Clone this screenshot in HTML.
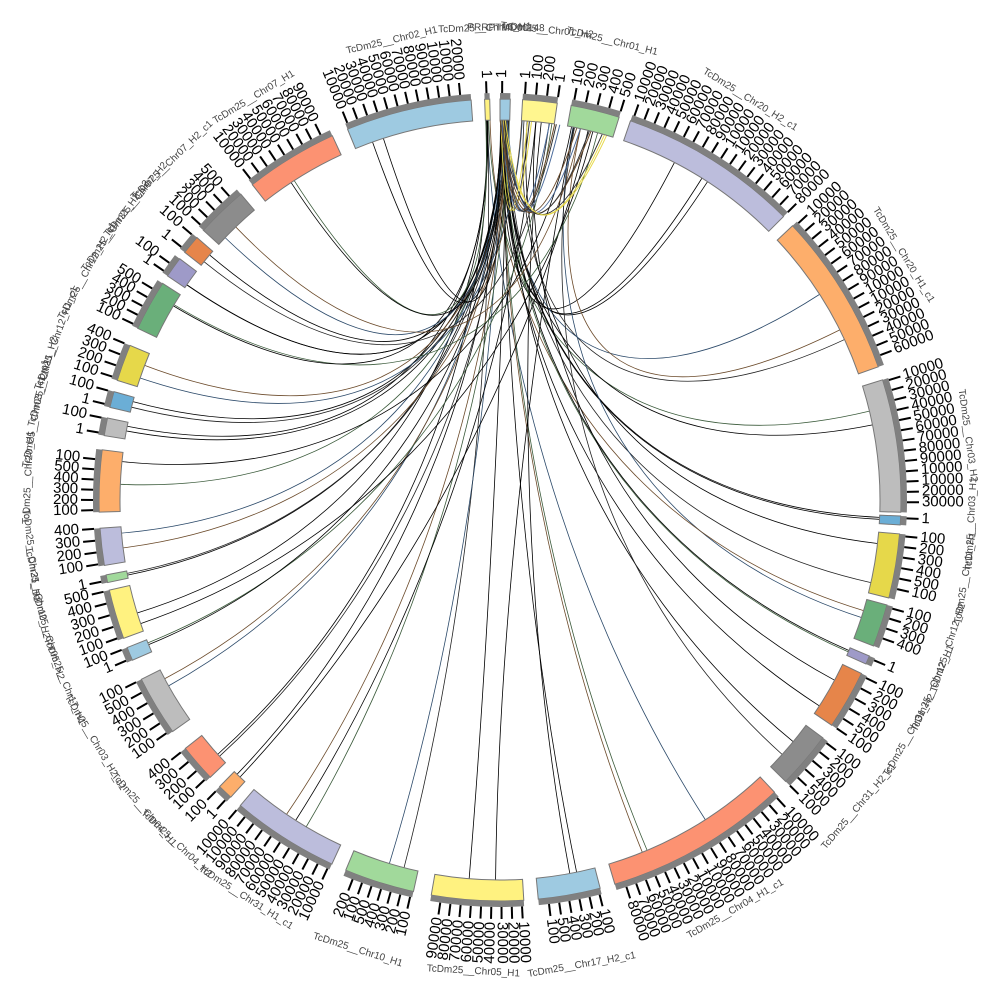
<!DOCTYPE html>
<html><head><meta charset="utf-8"><style>
html,body{margin:0;padding:0;background:#fff;}
svg{display:block;}
text{font-family:"Liberation Sans",sans-serif;}
</style></head><body>
<svg id="s" width="1000" height="1000" viewBox="0 0 1000 1000" xmlns="http://www.w3.org/2000/svg">
<g id="links"></g><g id="segs"></g><g id="labs"></g>
</svg>
<script>
var NS="http://www.w3.org/2000/svg",C=500;
function ang(x,y){var a=Math.atan2(x-C,C-y)*180/Math.PI;if(a<0)a+=360;return a;}
function pt(r,a){var t=a*Math.PI/180;return [C+r*Math.sin(t),C-r*Math.cos(t)];}
function el(tag,at,par){var e=document.createElementNS(NS,tag);for(var k in at)e.setAttribute(k,at[k]);document.getElementById(par).appendChild(e);return e;}
function ann(r1,r2,a1,a2){var p1=pt(r2,a1),p2=pt(r2,a2),p3=pt(r1,a2),p4=pt(r1,a1);var lg=(a2-a1)>180?1:0;
return "M"+p1+" A"+r2+","+r2+" 0 "+lg+" 1 "+p2+" L"+p3+" A"+r1+","+r1+" 0 "+lg+" 0 "+p4+"Z";}
var segs=[
[485,110,490,110,"#fff280","TcDm25__Chr16_H1"],
[500,110,510,110,"#9ecae1","PRRPTMD00148"],
[522,110,556,112,"#fff68f","TcDm25__Chr01_H2"],
[570,112,617,124,"#a1d99b","TcDm25__Chr01_H1"],
[628,128,778,222,"#bcbddc","TcDm25__Chr20_H2_c1"],
[788,230,892,362,"#fdae6b","TcDm25__Chr20_H1_c1"],
[882,380,892,512,"#bdbdbd","TcDm25__Chr03_H2"],
[891,518,891,522,"#6baed6","TcDm25__Chr03_H1"],
[889,533,881,596,"#e6d84a","TcDm25__Chr11_H1"],
[876,602,866,643,"#6aaf7a","TcDm25__Chr12_H2"],
[860,652,857,660,"#9e9ac8","TcDm25__Chr12_H1"],
[848,667,824,720,"#e6854a","TcDm25__Chr31_H2"],
[815,732,776,772,"#8c8c8c","TcDm25__Chr31_H2_c1"],
[763,780,610,868,"#fc9272","TcDm25__Chr04_H1_c1"],
[597,876,537,886,"#9ecae1","TcDm25__Chr17_H2_c1"],
[523,887,433,885,"#fff280","TcDm25__Chr05_H1"],
[416,880,350,860,"#a1d99b","TcDm25__Chr10_H1"],
[337,853,245,800,"#bcbddc","TcDm25__Chr31_H1_c1"],
[240,787,230,776,"#fdae6b","TcDm25__Chr04_H2"],
[221,767,196,740,"#fc9272","TcDm25__Chr04_H1"],
[186,722,146,677,"#bdbdbd","TcDm25__Chr03_H2_c1"],
[133,660,126,648,"#9ecae1","TcDm25__Chr17_H1"],
[119,640,110,590,"#fff280","TcDm25__Chr05_H2"],
[108,580,108,577,"#a1d99b","TcDm25__Chr10_H2"],
[107,565,103,528,"#bcbddc","TcDm25__Chr31_H1"],
[103,512,104,450,"#fdae6b","TcDm25__Chr20_H1"],
[113,437,117,420,"#bdbdbd","TcDm25__Chr03_H1_c1"],
[121,410,126,395,"#6baed6","TcDm25__Chr11_H2"],
[132,385,141,350,"#e6d84a","TcDm25__Chr12_H1_c1"],
[156,337,176,292,"#6aaf7a","TcDm25__Chr12_H2_c1"],
[181,285,192,268,"#9e9ac8","TcDm25__Chr31_H2_c2"],
[197,262,209,248,"#e6854a","TcDm25__Chr07_H2"],
[214,240,250,205,"#8c8c8c","TcDm25__Chr07_H2_c1"],
[262,197,338,148,"#fc9272","TcDm25__Chr07_H1"],
[352,140,472,112,"#9ecae1","TcDm25__Chr02_H1"]
];
var A=[];
var nums=["10000","20000","30000","40000","50000","60000","70000","80000","90000","10000"];
segs.forEach(function(s,i){
 var a1=ang(s[0],s[1]),a2=ang(s[2],s[3]);
 if(i==0||i==1){if(a1>180)a1-=360;if(a2>180)a2-=360;}
 if(a2<a1){var t=a1;a1=a2;a2=t;}
 if(a2-a1<0.7){a1-=0.35;a2+=0.35;}
 A.push([a1,a2]);
 el("path",{d:ann(380,401,a1,a2),fill:s[4],stroke:"#777","stroke-width":1},"segs");
 el("path",{d:ann(401,407,a1,a2),fill:"#808080"},"segs");
 var n=Math.max(1,Math.floor((a2-a1)/1.45)),step=(a2-a1)/(n+0.2);
 for(var k=0;k<=n;k++){var a=a1+0.3+k*step;if(a>a2)break;
  var p=pt(407,a),q=pt(419,a);
  el("line",{x1:p[0],y1:p[1],x2:q[0],y2:q[1],stroke:"#000","stroke-width":2},"segs");
  var L=pt(422,a),am=((a%360)+360)%360;
  var txt=(a2-a1<5)?["1","100","200"][k%3]:(a2-a1<12?["100","200","300","400","500"][k%5]:nums[k%10]);
  var t;
  if(am<180) t=el("text",{x:L[0],y:L[1],"font-size":15,"dominant-baseline":"middle",transform:"rotate("+(a-90)+" "+L[0]+" "+L[1]+")",fill:"#000"},"labs");
  else t=el("text",{x:L[0],y:L[1],"font-size":15,"text-anchor":"end","dominant-baseline":"middle",transform:"rotate("+(a+90)+" "+L[0]+" "+L[1]+")",fill:"#000"},"labs");
  t.textContent=txt;
 }
 var am2=(a1+a2)/2, lp=pt(472,am2), mm=((am2%360)+360)%360;
 var rot=(mm>90&&mm<270)?am2+180:am2;
 var tl=el("text",{x:lp[0],y:lp[1],"font-size":10,"text-anchor":"middle","dominant-baseline":"middle",fill:"#444",transform:"rotate("+rot+" "+lp[0]+" "+lp[1]+")"},"labs");
 tl.textContent=s[5];
});
var cols=["#000","#000","#000","#222","#2c4a6a","#6b4a2a","#3a5a3a","#000"];
var srcSeg=[1,1,1,2,1,3,0];
var seed=7;function rnd(){seed=(seed*9301+49297)%233280;return seed/233280;}
var targets=[];
for(var i=4;i<segs.length;i++){var c=(i==13||i==4||i==5||i==17)?3:2;for(var k=0;k<c;k++)targets.push(i);}
targets.forEach(function(ti,j){
 var si=srcSeg[j%srcSeg.length];
 var sa=A[si][0]+(A[si][1]-A[si][0])*rnd();
 var ta=A[ti][0]+(A[ti][1]-A[ti][0])*(0.15+0.7*rnd());
 var p0=pt(380,sa),p3=pt(380,ta),c1=pt(170,sa),c2=pt(120,ta);
 el("path",{d:"M"+p0+" C"+c1+" "+c2+" "+p3,fill:"none",stroke:cols[j%cols.length],"stroke-width":0.8},"links");
});
for(var j=0;j<14;j++){var sa=A[1][0]+(A[1][1]-A[1][0])*rnd(),ta=A[2][0]+(A[3][1]-A[2][0])*rnd();
 var p0=pt(380,sa),p3=pt(380,ta),c=pt(200,(sa+ta)/2);
 el("path",{d:"M"+p0+" Q"+c+" "+p3,fill:"none",stroke:["#333","#e6d84a","#4a6a9a","#6b4a2a"][j%4],"stroke-width":1},"links");}
</script>
</body></html>
